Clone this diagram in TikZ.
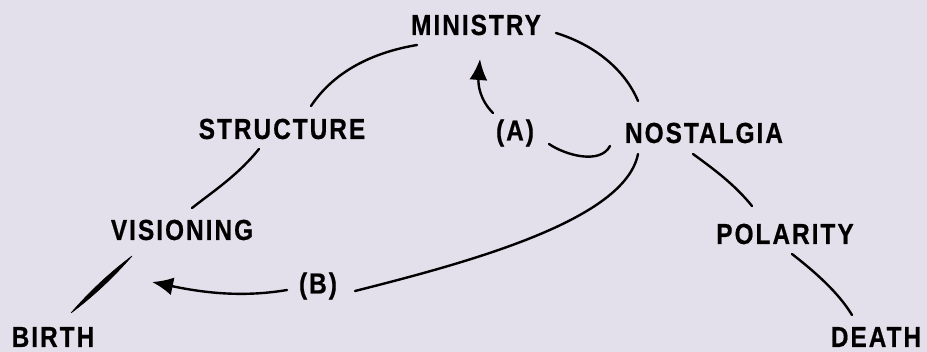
\documentclass[tikz,border=0pt]{standalone}
\usepackage{fontspec}
\newfontfamily\lab{Liberation Sans}[FakeStretch=0.84,LetterSpace=7,FakeBold=0.6]
\usetikzlibrary{arrows.meta}
\definecolor{bg}{HTML}{E4E0EB}
\tikzset{
  lbl/.style={inner sep=0pt, font=\lab\bfseries\fontsize{29}{29}\selectfont},
  conn/.style={line width=2.4pt, line cap=round},
  arr/.style={conn, -{Latex[length=21pt,width=18pt]}}
}
\begin{document}
\begin{tikzpicture}[x=1pt,y=-1pt]
\fill[bg] (0,0) rectangle (927,352);
\useasboundingbox (0,0) rectangle (927,352);
% labels
\node[lbl] (min) at (476,25) {MINISTRY};
\node[lbl] (str) at (282,129) {STRUCTURE};
\node[lbl] (nos) at (704,133) {NOSTALGIA};
\node[lbl] (a) at (515,133) {(A)};
\node[lbl] (vis) at (182,230) {VISIONING};
\node[lbl] (b) at (318,286) {(B)};
\node[lbl] (pol) at (785,234) {POLARITY};
\node[lbl] (bir) at (53,337) {BIRTH};
\node[lbl] (dea) at (876,337) {DEATH};
% free ends
\coordinate (s1) at (311,106); \coordinate (m1) at (417,45);
\coordinate (m2) at (556,33);  \coordinate (n1) at (638,101);
\coordinate (s2) at (259,149); \coordinate (v1) at (192,208);
\coordinate (v2) at (132,256); \coordinate (b1) at (71,313);
\coordinate (n2) at (693,154); \coordinate (p1) at (752,206);
\coordinate (p2) at (792,254); \coordinate (d1) at (852,315);
\coordinate (a1) at (493,113); \coordinate (m3) at (480,59);
\coordinate (a2) at (549,144); \coordinate (n3) at (610,146);
\coordinate (n4) at (638,154); \coordinate (b2) at (355,291);
\coordinate (b3) at (287,290); \coordinate (v3) at (152,282);
% connectors
\draw[conn] (s1) .. controls (335,70) and (375,52) .. (m1);
\draw[conn] (m2) .. controls (595,45) and (625,70) .. (n1);
\draw[conn] (s2) .. controls (238,175) and (215,190) .. (v1);
\fill[draw, line width=0.6pt] (v2) .. controls (109.7,272.8) and (89.3,291.8) .. (b1)
   .. controls (93.3,296.2) and (113.7,277.2) .. (v2);
\draw[conn] (n2) .. controls (715,170) and (735,185) .. (p1);
\draw[conn] (p2) .. controls (815,272) and (838,292) .. (d1);
\draw[arr] (a1) .. controls (480,100) and (478,85) .. (m3);
\draw[conn] (a2) .. controls (565,155) and (600,165) .. (n3);
\draw[conn] (n4) .. controls (625,220) and (470,262) .. (b2);
\draw[arr] (b3) .. controls (240,298) and (200,292) .. (v3);
\end{tikzpicture}
\end{document}
